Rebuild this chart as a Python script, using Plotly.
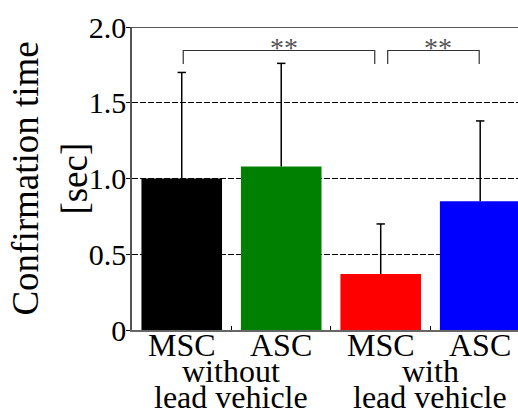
import plotly.graph_objects as go

categories = ["MSC", "ASC", "MSC", "ASC"]
groups = [["without", "lead vehicle"], ["with", "lead vehicle"]]
values = [1.00, 1.08, 0.37, 0.85]
errors = [0.70, 0.68, 0.33, 0.53]
colors = ["#000000", "#008000", "#ff0000", "#0000ff"]
y_ticks = [0, 0.5, 1.0, 1.5, 2.0]
y_ticktext = ["0", "0.5", "1.0", "1.5", "2.0"]
sig_pairs = [(0, 2), (2, 3)]
sig_labels = ["**", "**"]

FONT = "Liberation Serif, Times New Roman, serif"
xs = list(range(len(categories)))
tops = [v + e for v, e in zip(values, errors)]

fig = go.Figure()
fig.add_trace(go.Bar(
    x=xs, y=values, marker=dict(color=colors, line=dict(width=0)),
    error_y=dict(type="data", symmetric=False, array=errors,
                 arrayminus=[0] * len(errors), color="black",
                 thickness=1.5, width=0),
    width=0.81, showlegend=False,
))
# error bar caps (top only)
fig.add_trace(go.Scatter(
    x=xs, y=tops, mode="markers", showlegend=False, hoverinfo="skip",
    marker=dict(symbol="line-ew", size=6, line=dict(color="black", width=1.5)),
))

shapes = []
annotations = []
# top frame line
shapes.append(dict(type="line", xref="paper", yref="y", x0=0, x1=1, y0=2.0, y1=2.0,
                   line=dict(color="#222", width=1.5)))
# significance brackets
br_top = 1.845
br_bot = 1.755
offsets = [(0.015, -0.06), (0.07, -0.01)]
for (i, j), (o1, o2) in zip(sig_pairs, offsets):
    x0 = i + o1
    x1 = j + o2
    shapes.append(dict(type="path", xref="x", yref="y",
                       path=f"M {x0},{br_bot} L {x0},{br_top} L {x1},{br_top} L {x1},{br_bot}",
                       line=dict(color="#333", width=1.2)))
for xc, lab in zip([1.03, 2.58], sig_labels):
    annotations.append(dict(x=xc, y=br_top, xref="x", yref="y", text=lab,
                            showarrow=False, yanchor="bottom", yshift=-15,
                            font=dict(family=FONT, size=28, color="#555")))

# category labels
for xi, c in zip(xs, categories):
    annotations.append(dict(x=xi, y=0, xref="x", yref="paper", text=c, showarrow=False,
                            yanchor="top", yshift=5,
                            font=dict(family=FONT, size=32, color="black")))
# group labels
for gi, lines in enumerate(groups):
    xc = 2 * gi + 0.5
    for li, t in enumerate(lines):
        annotations.append(dict(x=xc, y=0, xref="x", yref="paper", text=t, showarrow=False,
                                yanchor="top", yshift=5 - 26 * (li + 1),
                                font=dict(family=FONT, size=32, color="black")))

# y title (two lines, tight spacing)
for txt, xp in [("Confirmation time", -0.277), ("[sec]", -0.150)]:
    annotations.append(dict(x=xp, y=0.5, xref="paper", yref="paper",
                            text=txt, textangle=-90,
                            showarrow=False, xanchor="center", yanchor="middle",
                            font=dict(family=FONT, size=37, color="black")))

fig.update_layout(
    width=518, height=411,
    margin=dict(l=132, r=0, t=27, b=81),
    paper_bgcolor="white", plot_bgcolor="white",
    bargap=0.19,
    shapes=shapes, annotations=annotations,
    xaxis=dict(range=[-0.5, 3.38], showgrid=False, zeroline=False,
               showline=True, linecolor="#666", linewidth=1.5,
               tickvals=[0.5, 1.5, 2.5], ticks="inside", ticklen=4,
               tickcolor="black", tickwidth=1, showticklabels=False),
    yaxis=dict(range=[0, 2.0], tickvals=y_ticks, ticktext=y_ticktext,
               showgrid=True, gridcolor="black", gridwidth=1, griddash="6px,2px",
               zeroline=False, showline=True, linecolor="#555", linewidth=1.5,
               ticks="outside", ticklen=4, tickcolor="black", ticklabelstandoff=-6,
               tickfont=dict(family=FONT, size=30, color="black")),
)

fig.write_html("out.html", config={"displayModeBar": False},
               post_script="document.body.style.margin='0';document.body.style.overflow='hidden';")
